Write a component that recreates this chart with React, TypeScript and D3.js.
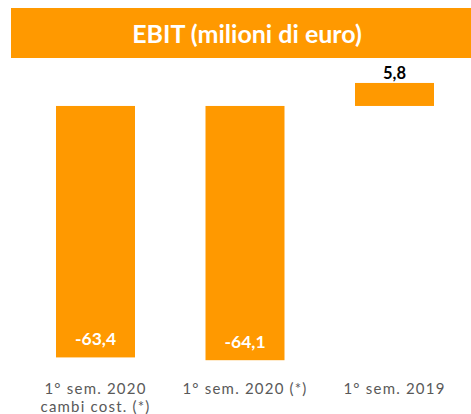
import React from "react";
import * as d3 from "d3";

const categories = ["1° sem. 2020|cambi cost. (*)", "1° sem. 2020 (*)", "1° sem. 2019"];
const values = [-63.4, -64.1, 5.8];
const valueLabels = ["-63,4", "-64,1", "5,8"];
const title = "EBIT (milioni di euro)";

const W = 471;
const H = 414;
const ORANGE = "#FF9900";

export default function App() {
  const x = d3
    .scaleBand<string>()
    .domain(categories)
    .range([20.75, 469.25])
    .paddingInner(0.4716)
    .paddingOuter(0.2358);
  const y = d3.scaleLinear().domain([-70, 10]).range([383.6, 66.3]);
  const font = "Lato, 'Open Sans', sans-serif";

  return (
    <svg
      width={W}
      height={H}
      style={{ position: "absolute", left: 0, top: 0, background: "#fff" }}
    >
      <rect x={11} y={8} width={W - 11} height={50} fill={ORANGE} />
      <text
        x={247}
        y={33}
        textAnchor="middle"
        dominantBaseline="central"
        fill="#fff"
        fontFamily={font}
        fontWeight="bold"
        fontSize={25}
      >
        {title}
      </text>
      {categories.map((c, i) => {
        const v = values[i];
        const bx = x(c)!;
        const bw = x.bandwidth();
        const y0 = y(0);
        const y1 = y(v);
        const top = Math.min(y0, y1);
        const h = Math.abs(y1 - y0);
        const cx = bx + bw / 2;
        const lines = c.split("|");
        return (
          <g key={c}>
            <rect x={bx} y={top} width={bw} height={h} fill={ORANGE} />
            {v < 0 ? (
              <text
                x={cx}
                y={y1 - 19}
                textAnchor="middle"
                dominantBaseline="central"
                fill="#fff"
                fontFamily={font}
                fontWeight="bold"
                fontSize={17.5}
              >
                {valueLabels[i]}
              </text>
            ) : (
              <text
                x={cx}
                y={y1 - 10}
                textAnchor="middle"
                dominantBaseline="central"
                fill="#000"
                fontFamily={font}
                fontWeight="bold"
                fontSize={16.5}
              >
                {valueLabels[i]}
              </text>
            )}
            {lines.map((l, j) => (
              <text
                key={j}
                x={cx}
                y={388 + j * 18}
                textAnchor="middle"
                dominantBaseline="central"
                fill="#595959"
                fontFamily={font}
                fontSize={15}
                letterSpacing={1.2}
              >
                {l}
              </text>
            ))}
          </g>
        );
      })}
    </svg>
  );
}
